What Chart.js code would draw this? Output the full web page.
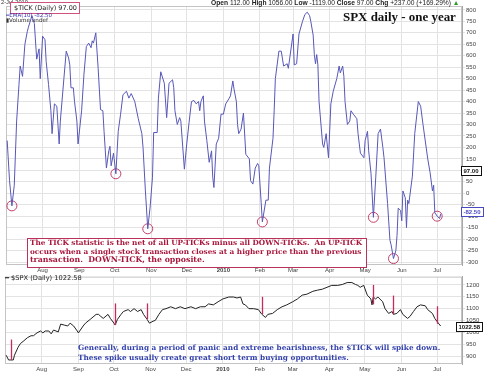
<!DOCTYPE html>
<html>
<head>
<meta charset="utf-8">
<script src="https://cdn.jsdelivr.net/npm/chart.js@4.4.1/dist/chart.umd.min.js"></script>
<style>
  body { margin: 0; background: #fff; width: 490px; height: 375px; overflow: hidden; position: relative; font-family: Arial, "Liberation Sans", sans-serif; }
  #topWrap { position: absolute; left: 0; top: 0; width: 490px; height: 275px; }
  #botWrap { position: absolute; left: 0; top: 272px; width: 490px; height: 103px; }
  .t { position: absolute; white-space: pre; }
  .note { font-family: "DejaVu Serif", serif; font-weight: bold; }
  #redBox { position: absolute; left: 27px; top: 238px; width: 338px; height: 28px; border: 1px solid #b8325a; background: #fff; }
  #tickBox { position: absolute; left: 10px; top: 2px; width: 68px; height: 10px; border: 1px solid #d0507e; background: #fff; }
</style>
</head>
<body>
<div id="topWrap"><canvas id="tickChart"></canvas></div>
<div id="botWrap"><canvas id="spxChart"></canvas></div>

<div class="t" style="left:1px;color:#333" data-fs="6" data-w="27" data-y="3">2-Jul-2010</div>
<div id="tickBox"></div>
<div class="t" style="left:14px;font-family:'DejaVu Sans';color:#222" data-fs="6" data-w="63" data-y="8">$TICK (Daily) 97.00</div>
<div class="t" style="left:6px;font-family:'DejaVu Sans';color:#3636b0" data-fs="5" data-w="46" data-y="15.5">━EMA(10) -82.50</div>
<div class="t" style="left:6px;font-family:'DejaVu Sans';color:#333" data-fs="5" data-w="42" data-y="21">▮Volume undef</div>
<div class="t" style="left:211px;color:#222" data-fs="6" data-w="249" data-y="3"><b>Open</b> 112.00 <b>High</b> 1056.00 <b>Low</b> -1119.00 <b>Close</b> 97.00 <b>Chg</b> +237.00 (+169.29%) <span style="color:#2a9a2a">▲</span></div>
<div class="t" style="left:343px;font-family:'Liberation Serif',serif;font-weight:bold;color:#111" data-fs="13" data-w="113" data-y="17">SPX daily - one year</div>

<div id="redBox"></div>
<div class="t note" style="left:30px;color:#a8173c" data-fs="8" data-w="333" data-y="242.5">The TICK statistic is the net of all UP-TICKs minus all DOWN-TICKs.  An UP-TICK</div>
<div class="t note" style="left:30px;color:#a8173c" data-fs="8" data-w="332" data-y="251.5">occurs when a single stock transaction closes at a higher price than the previous</div>
<div class="t note" style="left:30px;color:#a8173c" data-fs="8" data-w="175" data-y="260">transaction.  DOWN-TICK, the opposite.</div>

<div class="t" style="left:5px;font-family:'DejaVu Sans';color:#222" data-fs="6" data-w="77" data-y="278.5">━ $SPX (Daily) 1022.58</div>
<div class="t note" style="left:78px;color:#3442ac" data-fs="8" data-w="363" data-y="348">Generally, during a period of panic and extreme bearishness, the $TICK will spike down.</div>
<div class="t note" style="left:78px;color:#3442ac" data-fs="8" data-w="271" data-y="357.5">These spike usually create great short term buying opportunities.</div>

<script>
// x values are calendar days counted from 1-Jul-2009
const monthDays = [31, 62, 92, 123, 153, 184, 215, 243, 274, 304, 335, 365];
const monthLabels = ['Aug', 'Sep', 'Oct', 'Nov', 'Dec', '2010', 'Feb', 'Mar', 'Apr', 'May', 'Jun', 'Jul'];

// $TICK daily
const tickDays = [1,3,5,7,9,11,12,14,16,18,19,22,24,26,28,29,31,33,34,36,38,39,41,43,45,46,49,51,53,54,55,57,58,60,61,64,66,68,70,72,73,74,76,78,80,82,83,85,87,88,89,91,93,95,97,99,102,104,106,109,112,115,116,118,120,122,124,125,128,129,131,134,136,138,141,142,143,145,147,148,151,153,155,157,159,161,163,164,165,167,168,170,172,174,175,176,178,180,182,184,186,189,190,192,193,195,196,197,199,201,203,206,207,209,211,213,214,216,217,220,222,223,226,227,228,231,233,235,238,239,243,244,246,248,251,253,255,257,258,260,261,262,263,264,265,268,269,271,273,275,277,280,282,283,285,286,287,289,291,292,294,297,298,300,303,304,306,307,309,311,313,315,317,319,320,323,325,326,328,330,331,332,334,335,336,338,339,340,341,344,346,349,351,353,357,359,361,362,363,365,367,368];
const tickValues = [230,55,-55,35,315,475,555,510,650,705,725,775,740,585,630,500,685,670,575,475,360,260,390,380,215,315,500,620,590,560,460,460,400,315,215,360,520,640,655,635,665,655,700,545,365,360,270,110,185,205,120,175,85,270,345,430,445,415,435,400,325,260,200,10,-155,-60,70,265,265,415,530,480,330,480,495,460,360,300,330,315,105,215,310,400,405,390,400,360,400,425,315,230,135,185,70,25,215,240,345,345,390,415,425,490,455,400,300,260,280,350,170,150,55,40,110,130,120,-40,-125,-30,-30,110,240,360,500,620,620,555,565,545,695,560,565,695,750,780,790,775,750,690,605,565,605,560,400,215,200,260,155,390,445,500,555,525,555,510,400,300,315,360,345,325,260,175,155,230,270,185,85,-105,70,260,280,200,155,-45,-205,-225,-285,-250,-185,-65,-75,-120,10,-20,-150,-30,-45,75,260,400,380,300,150,90,10,35,-85,-100,-110,-90];
const tickLevels = [800,750,700,650,600,550,500,450,400,350,300,250,200,150,100,50,0,-50,-100,-150,-200,-250,-300];
const tickLast = 97.00;
const emaLast = -82.50;

// $SPX daily
const spxDays = [1,3,7,8,11,13,16,19,22,24,27,30,32,34,37,39,41,45,47,50,53,55,58,61,62,66,68,72,77,79,81,83,87,89,92,93,95,98,100,104,106,109,112,115,117,120,122,125,127,130,133,136,140,144,148,152,157,161,165,169,172,176,180,184,189,193,196,199,201,203,206,210,214,217,220,222,226,230,234,238,243,247,251,255,260,264,268,272,276,281,285,289,293,296,298,300,303,306,309,310,311,313,315,319,321,324,327,328,331,334,336,340,342,345,348,351,355,357,361,363,366,368];
const spxValues = [904,884,884,904,937,953,965,978,986,986,998,1006,998,1006,1006,994,1010,1002,1035,1031,1027,1039,1027,1006,998,1027,1039,1055,1076,1076,1067,1059,1076,1059,1039,1031,1055,1076,1088,1096,1088,1100,1088,1096,1076,1055,1039,1047,1051,1076,1096,1100,1108,1100,1108,1100,1108,1100,1108,1108,1120,1116,1129,1141,1149,1149,1145,1149,1120,1116,1100,1100,1096,1076,1063,1076,1080,1096,1108,1116,1129,1141,1157,1161,1173,1178,1182,1190,1198,1198,1202,1210,1210,1202,1198,1190,1198,1157,1141,1116,1149,1141,1149,1129,1100,1080,1088,1076,1080,1096,1076,1059,1067,1088,1108,1116,1112,1096,1080,1059,1039,1027];
const spxLevels = [1200,1150,1100,1050,1000,950,900];
const spxLast = 1022.58;

// circled $TICK lows and the matching spikes on $SPX
const lowDays = [5, 93, 120, 217, 311, 328, 365];
const lowTick = [-55, 85, -155, -125, -105, -285, -100];
const spikeTop = [970, 1122, 1122, 1150, 1200, 1155, 1110];
const spikeBottom = [885, 1031, 1056, 1077, 1118, 1077, 1036];

const GRID = '#e3e3e3';
const RED = '#c2416a';

Chart.defaults.font.family = 'Arial, "Liberation Sans", sans-serif';
Chart.defaults.animation = false;

function fitText() {
  document.querySelectorAll('[data-w]').forEach(el => {
    let fs = parseFloat(el.dataset.fs);
    el.style.fontSize = fs + 'px';
    const w = el.getBoundingClientRect().width;
    fs = fs * parseFloat(el.dataset.w) / w;
    el.style.fontSize = fs + 'px';
    el.style.lineHeight = fs + 'px';
    el.style.top = (parseFloat(el.dataset.y) - fs / 2) + 'px';
  });
}
fitText();

const framePlugin = {
  id: 'frame',
  beforeDatasetsDraw(chart) {
    const a = chart.chartArea, ctx = chart.ctx;
    ctx.save();
    ctx.strokeStyle = '#c4c4c4';
    ctx.lineWidth = 1;
    ctx.strokeRect(a.left + 0.5, a.top + 0.5, a.right - a.left - 1, a.bottom - a.top - 1);
    ctx.restore();
  }
};

const markerPlugin = {
  id: 'markers',
  afterDraw(chart, args, opts) {
    const ctx = chart.ctx, y = chart.scales.y;
    (opts.items || []).forEach(m => {
      const py = Math.round(y.getPixelForValue(m.value));
      ctx.save();
      ctx.font = 'bold 6px Arial';
      const w = Math.ceil(ctx.measureText(m.text).width) + 4;
      ctx.fillStyle = '#fff';
      ctx.fillRect(m.x, py - 5, w, 10);
      ctx.strokeStyle = m.color;
      ctx.lineWidth = 1;
      ctx.strokeRect(m.x + 0.5, py - 4.5, w, 9);
      ctx.fillStyle = m.color;
      ctx.textBaseline = 'middle';
      ctx.fillText(m.text, m.x + 2.5, py + 0.5);
      ctx.restore();
    });
  }
};

const spikePlugin = {
  id: 'spikes',
  afterDatasetsDraw(chart) {
    const ctx = chart.ctx, x = chart.scales.x, y = chart.scales.y;
    ctx.save();
    ctx.strokeStyle = '#c42a5c';
    ctx.lineWidth = 1.3;
    lowDays.forEach((d, i) => {
      const px = Math.round(x.getPixelForValue(d)) + 0.5;
      ctx.beginPath();
      ctx.moveTo(px, y.getPixelForValue(spikeTop[i]));
      ctx.lineTo(px, y.getPixelForValue(spikeBottom[i]));
      ctx.stroke();
    });
    ctx.restore();
  }
};

function xAxis(h) {
  return {
    type: 'linear', min: 0, max: 386,
    afterBuildTicks: s => { s.ticks = monthDays.map(v => ({ value: v })); },
    afterFit: s => { s.height = h; },
    grid: { color: GRID, drawTicks: false },
    border: { display: false },
    ticks: {
      autoSkip: false, maxRotation: 0, padding: 2, color: '#444',
      font: c => ({ size: 6, weight: c.index === 5 ? 'bold' : 'normal' }),
      callback: (v, i) => monthLabels[i]
    }
  };
}

function yAxis(min, max, levels) {
  return {
    position: 'right', min: min, max: max,
    afterBuildTicks: s => { s.ticks = levels.map(v => ({ value: v })); },
    afterFit: s => { s.width = 28; },
    grid: { color: GRID, tickLength: 3, drawTicks: true },
    border: { color: '#a8a8a8' },
    ticks: { padding: 1, color: '#444', font: { size: 6 }, callback: v => v }
  };
}

new Chart(document.getElementById('tickChart'), {
  type: 'line',
  data: {
    datasets: [
      {
        data: tickDays.map((d, i) => ({ x: d, y: tickValues[i] })),
        borderColor: '#5757b9', borderWidth: 1, pointRadius: 0, tension: 0
      },
      {
        data: lowDays.map((d, i) => ({ x: d, y: lowTick[i] })),
        showLine: false, pointRadius: 5, pointStyle: 'circle',
        pointBorderColor: RED, pointBorderWidth: 1, pointBackgroundColor: 'rgba(0,0,0,0)'
      }
    ]
  },
  options: {
    responsive: true, maintainAspectRatio: false,
    layout: { padding: { left: 5, top: 4, right: 0, bottom: 0 } },
    plugins: {
      legend: { display: false }, tooltip: { enabled: false },
      markers: { items: [
        { value: tickLast, text: tickLast.toFixed(2), color: '#111', x: 461 },
        { value: emaLast, text: emaLast.toFixed(2), color: '#4a4ac0', x: 461 }
      ] }
    },
    scales: { x: xAxis(10), y: yAxis(-313, 817, tickLevels) }
  },
  plugins: [framePlugin, markerPlugin]
});

new Chart(document.getElementById('spxChart'), {
  type: 'line',
  data: {
    datasets: [{
      data: spxDays.map((d, i) => ({ x: d, y: spxValues[i] })),
      borderColor: '#222', borderWidth: 1, pointRadius: 0, tension: 0
    }]
  },
  options: {
    responsive: true, maintainAspectRatio: false,
    layout: { padding: { left: 5, top: 2, right: 0, bottom: 0 } },
    plugins: {
      legend: { display: false }, tooltip: { enabled: false },
      markers: { items: [{ value: spxLast, text: spxLast.toFixed(2), color: '#111', x: 456 }] }
    },
    scales: { x: xAxis(11), y: yAxis(867, 1235, spxLevels) }
  },
  plugins: [framePlugin, spikePlugin, markerPlugin]
});
</script>
</body>
</html>
